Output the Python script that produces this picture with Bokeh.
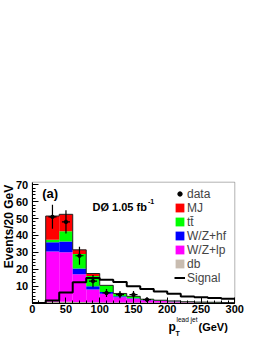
import numpy as np
from bokeh.plotting import figure
from bokeh.models import Range1d, FixedTicker, Label, Legend, LegendItem, BoxAnnotation
from bokeh.embed import file_html
from bokeh.resources import INLINE

# ---- data (20 GeV bins, 0-300 GeV) ----
edges = [0, 20, 40, 60, 80, 100, 120, 140, 160, 180, 200, 220, 240, 260, 280, 300]
db = [0, 0.8, 0.8, 0.6, 0.5, 0.4, 0.3, 0.3, 0.3, 0.4, 0.4, 0.5, 0.4, 0.3, 0.3]
wz_lp = [0, 29.7, 29.2, 16.4, 7.5, 5.1, 3.2, 2.2, 1.4, 0.9, 0.6, 0.2, 0.1, 0.1, 0.0]
wz_hf = [0, 5.5, 6.5, 3.5, 2.0, 1.0, 0.5, 0.4, 0.2, 0.1, 0.1, 0.0, 0.0, 0.0, 0.0]
ttbar = [0, 1.5, 6.0, 8.5, 6.0, 4.0, 1.5, 1.1, 0.4, 0.3, 0.2, 0.1, 0.1, 0.1, 0.0]
mj = [0, 14.0, 10.0, 2.5, 1.5, 0.0, 0.2, 0.0, 0.0, 0.0, 0.0, 0.0, 0.0, 0.0, 0.0]
signal = [0, 1.5, 6.3, 12.4, 14.8, 13.8, 12.5, 10.0, 8.4, 6.9, 5.5, 3.9, 3.5, 3.0, 2.5]
data = [0, 51, 48, 28, 13, 6, 5, 5, 2, 0, 0, 0, 0, 0, 0]
data_err = [0, 7.1, 6.9, 5.3, 3.6, 2.4, 2.2, 2.2, 1.4, 0, 0, 0, 0, 0, 0]
x_ticks = [0, 50, 100, 150, 200, 250, 300]
y_ticks = [10, 20, 30, 40, 50, 60, 70]
X_MAX, Y_MAX = 300, 71.5

components = [("db", db, "#c8bcb0"), ("W/Z+lp", wz_lp, "#ff00ff"),
              ("W/Z+hf", wz_hf, "#0000ff"), ("tt\u0304", ttbar, "#00ff00"),
              ("MJ", mj, "#ff0000")]

FONT = "Liberation Sans"

# ---- layout: the frame fills the whole canvas; the axis box sits inside it ----
W, H = 258, 336
BOX_L, BOX_R, BOX_T, BOX_B = 31.7, 234.3, 181.7, 302.6   # pixel position of plot box
sx = (BOX_R - BOX_L) / X_MAX
sy = (BOX_B - BOX_T) / Y_MAX

def X(px):
    return (px - BOX_L) / sx

def Y(py):
    return (BOX_B - py) / sy

p = figure(width=W, height=H, output_backend="svg", toolbar_location=None,
           x_range=Range1d(X(0), X(W)), y_range=Range1d(Y(H), Y(0)),
           min_border=0, min_border_left=0, min_border_right=0,
           min_border_top=0, min_border_bottom=0)
p.grid.visible = False
p.outline_line_color = None
p.background_fill_color = "white"
p.border_fill_color = "white"

left = np.array(edges[:-1], dtype=float)
right = np.array(edges[1:], dtype=float)
bottom = np.zeros(len(left))
renderers = {}
for name, vals, col in components:
    v = np.array(vals, dtype=float)
    top = bottom + v
    r = p.quad(left=left, right=right, bottom=bottom, top=top,
               fill_color=col, line_color=None)
    renderers[name] = r
    bottom = top

# outline of total stack
p.step(x=edges, y=list(bottom) + [bottom[-1]], mode="after",
       line_color="#222222", line_width=1)

# signal
sig_r = p.step(x=edges, y=signal + [signal[-1]], mode="after",
               line_color="black", line_width=2)

# data points with error bars
cx = [(a + b) / 2 for a, b in zip(edges[:-1], edges[1:])]
dx, dy, de, dl, dr = [], [], [], [], []
for c, a, b, v, e in zip(cx, edges[:-1], edges[1:], data, data_err):
    if v > 0:
        dx.append(c); dy.append(v); de.append(e); dl.append(a + 4); dr.append(b - 4)
p.segment(x0=dx, x1=dx, y0=[v - e for v, e in zip(dy, de)],
          y1=[v + e for v, e in zip(dy, de)], line_color="black", line_width=1.2)
p.segment(x0=dl, x1=dr, y0=dy, y1=dy, line_color="black", line_width=1.2)
data_r = p.scatter(x=dx, y=dy, size=3.5, color="black")

# plot box
p.add_layout(BoxAnnotation(left=0, right=X_MAX, bottom=0, top=Y_MAX,
                           fill_alpha=0, line_color="black", line_width=1))

# axes pinned to the box
xa, ya = p.xaxis[0], p.yaxis[0]
xa.fixed_location = 0
ya.fixed_location = 0
xa.bounds = (0, X_MAX)
ya.bounds = (0, Y_MAX)
xa.ticker = FixedTicker(ticks=x_ticks, minor_ticks=list(range(0, X_MAX + 1, 10)))
ya.ticker = FixedTicker(ticks=y_ticks, minor_ticks=list(range(0, 72, 2)))
for ax in (xa, ya):
    ax.major_tick_in = 6
    ax.major_tick_out = 0
    ax.minor_tick_in = 3
    ax.minor_tick_out = 0
    ax.axis_line_color = "black"
    ax.major_label_text_font = FONT
    ax.major_label_text_font_style = "bold"
    ax.major_label_text_color = "black"
xa.major_label_text_font_size = "11px"
ya.major_label_text_font_size = "11px"
xa.major_label_standoff = 2
ya.major_label_standoff = 4

# texts (positions given in page pixels)
def lab(px, py, text, size, bold=True, angle=0.0, align="left", baseline="alphabetic"):
    p.add_layout(Label(x=X(px), y=Y(py), text=text, angle=angle,
                       text_font=FONT, text_font_style="bold" if bold else "normal",
                       text_font_size=size, text_baseline=baseline,
                       text_align=align, text_color="black"))

lab(8, 226, "Events/20 GeV", "12px", angle=np.pi / 2, align="center", baseline="middle")
lab(168, 326, "p", "12px")
lab(175, 332.5, "T", "7px")
lab(176, 319, "lead jet", "6.5px", bold=False)
lab(198, 326.5, "(GeV)", "11px")
lab(41.7, 193, "(a)", "13px")
lab(92, 206, "D\u00d8 1.05 fb", "11px")
lab(147.5, 201, "-1", "7px")

items = [LegendItem(label="data", renderers=[data_r]),
         LegendItem(label="MJ", renderers=[renderers["MJ"]]),
         LegendItem(label="tt\u0304", renderers=[renderers["tt\u0304"]]),
         LegendItem(label="W/Z+hf", renderers=[renderers["W/Z+hf"]]),
         LegendItem(label="W/Z+lp", renderers=[renderers["W/Z+lp"]]),
         LegendItem(label="db", renderers=[renderers["db"]]),
         LegendItem(label="Signal", renderers=[sig_r])]
legend = Legend(items=items, location=(174, H - 284.6), padding=0, margin=0,
                spacing=0, glyph_width=11, glyph_height=11, label_height=11,
                label_standoff=2, label_text_font=FONT, label_text_font_size="12px",
                border_line_alpha=0, background_fill_alpha=0)
p.add_layout(legend)

open("out.html", "w").write(file_html(p, INLINE))
